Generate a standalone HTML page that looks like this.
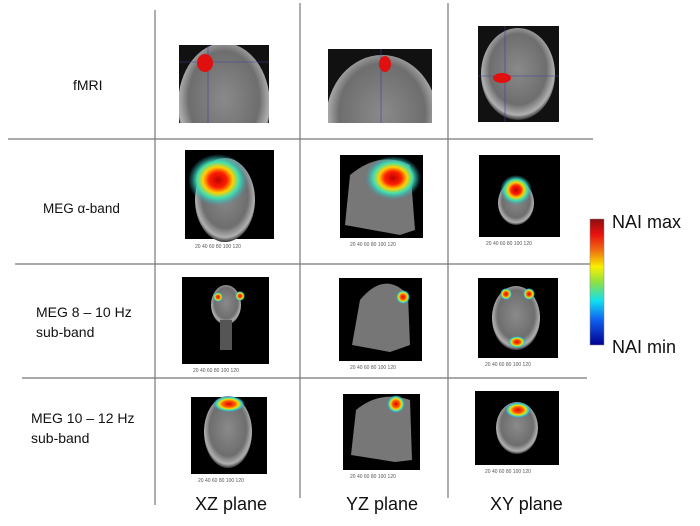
<!DOCTYPE html>
<html><head><meta charset="utf-8"><style>
body{margin:0;background:#fff;}
svg{display:block;font-family:"Liberation Sans",sans-serif;}
.t{font-size:5px;fill:#555}
</style></head><body>
<svg width="700" height="526" viewBox="0 0 700 526">
<defs>
<radialGradient id="brain" cx="50%" cy="45%" r="55%">
<stop offset="0" stop-color="#8a8a8a"/><stop offset="0.7" stop-color="#6e6e6e"/><stop offset="0.9" stop-color="#b0b0b0"/><stop offset="1" stop-color="#333"/></radialGradient>
<radialGradient id="hot" cx="50%" cy="50%" r="50%">
<stop offset="0" stop-color="#c00000"/><stop offset="0.3" stop-color="#ff2000"/><stop offset="0.5" stop-color="#ffd000"/><stop offset="0.7" stop-color="#40e0b0"/><stop offset="1" stop-color="#30a0c0" stop-opacity="0"/></radialGradient>
<radialGradient id="hot2" cx="50%" cy="50%" r="50%">
<stop offset="0" stop-color="#e00000"/><stop offset="0.4" stop-color="#ff6000"/><stop offset="0.6" stop-color="#f0e000"/><stop offset="0.8" stop-color="#30d0d0"/><stop offset="1" stop-color="#3090d0" stop-opacity="0"/></radialGradient>
<linearGradient id="cb" x1="0" y1="0" x2="0" y2="1">
<stop offset="0" stop-color="#8b1010"/><stop offset="0.12" stop-color="#e81010"/><stop offset="0.25" stop-color="#f07010"/><stop offset="0.38" stop-color="#f8f000"/><stop offset="0.5" stop-color="#90e040"/><stop offset="0.65" stop-color="#10e0f0"/><stop offset="0.8" stop-color="#1060f0"/><stop offset="1" stop-color="#000090"/></linearGradient>
<clipPath id="c1"><rect x="179" y="45" width="90" height="78"/></clipPath>
<clipPath id="c2"><rect x="328" y="49" width="104" height="74"/></clipPath>
<clipPath id="c3"><rect x="478" y="26" width="81" height="96"/></clipPath>
</defs>

<g stroke="#777" stroke-width="1.2">
<line x1="155" y1="10" x2="155" y2="505"/>
<line x1="300" y1="3" x2="300" y2="498"/>
<line x1="448" y1="3" x2="448" y2="498"/>
<line x1="8" y1="139" x2="593" y2="139"/>
<line x1="15" y1="264" x2="593" y2="264"/>
<line x1="22" y1="378" x2="587" y2="378"/>
</g>

<g font-size="14" fill="#111">
<text x="73" y="90">fMRI</text>
<text x="43" y="213" font-size="13.5">MEG α-band</text>
<text x="36" y="317">MEG 8 – 10 Hz</text>
<text x="36" y="337">sub-band</text>
<text x="31" y="423">MEG 10 – 12 Hz</text>
<text x="31" y="443">sub-band</text>
</g>
<g font-size="18" fill="#111">
<text x="195" y="510">XZ plane</text>
<text x="346" y="510">YZ plane</text>
<text x="490" y="510">XY plane</text>
<text x="612" y="228">NAI max</text>
<text x="612" y="353">NAI min</text>
</g>
<rect x="590" y="219" width="14" height="126" fill="url(#cb)" stroke="#888" stroke-width="0.5"/>

<!-- fMRI row -->
<rect x="179" y="45" width="90" height="78" fill="#111"/>
<g clip-path="url(#c1)">
<ellipse cx="224" cy="105" rx="46" ry="62" fill="url(#brain)"/>
<line x1="179" y1="62" x2="269" y2="62" stroke="#4040a0" stroke-width="0.6"/>
<line x1="208" y1="45" x2="208" y2="123" stroke="#4040a0" stroke-width="0.6"/>
</g>
<ellipse cx="205" cy="63" rx="8" ry="9" fill="#e01010"/>
<rect x="328" y="49" width="104" height="74" fill="#111"/>
<g clip-path="url(#c2)">
<ellipse cx="382" cy="120" rx="56" ry="65" fill="url(#brain)"/>
<line x1="381" y1="49" x2="381" y2="123" stroke="#4040a0" stroke-width="0.6"/>
</g>
<ellipse cx="385" cy="64" rx="6" ry="8" fill="#e01010"/>
<rect x="478" y="26" width="81" height="96" fill="#111"/>
<g clip-path="url(#c3)">
<ellipse cx="518" cy="74" rx="37" ry="46" fill="url(#brain)"/>
<line x1="478" y1="76" x2="559" y2="76" stroke="#4040a0" stroke-width="0.6"/>
<line x1="505" y1="26" x2="505" y2="122" stroke="#4040a0" stroke-width="0.6"/>
</g>
<ellipse cx="502" cy="78" rx="9" ry="5" fill="#e01010"/>

<!-- row 2 -->
<rect x="185" y="150" width="89" height="89" fill="#000"/>
<ellipse cx="225" cy="200" rx="30" ry="42" fill="url(#brain)"/>
<ellipse cx="218" cy="180" rx="30" ry="26" fill="url(#hot)"/>
<rect x="340" y="155" width="83" height="83" fill="#000"/>
<path d="M345 225 L350 175 Q380 150 410 165 L415 230 L400 235 Z" fill="#777"/>
<ellipse cx="393" cy="178" rx="28" ry="22" fill="url(#hot)"/>
<rect x="479" y="155" width="81" height="82" fill="#000"/>
<ellipse cx="516" cy="203" rx="18" ry="22" fill="url(#brain)"/>
<ellipse cx="516" cy="190" rx="16" ry="15" fill="url(#hot)"/>

<!-- row 3 -->
<rect x="182" y="277" width="87" height="87" fill="#000"/>
<ellipse cx="226" cy="305" rx="15" ry="20" fill="url(#brain)"/>
<rect x="220" y="320" width="12" height="30" fill="#555"/>
<circle cx="218" cy="297" r="5" fill="url(#hot2)"/>
<circle cx="240" cy="296" r="5" fill="url(#hot2)"/>
<rect x="339" y="278" width="83" height="83" fill="#000"/>
<path d="M352 345 L360 300 Q385 270 408 295 L410 345 L390 352 Z" fill="#767676"/>
<circle cx="403" cy="297" r="7" fill="url(#hot2)"/>
<rect x="478" y="278" width="80" height="80" fill="#000"/>
<ellipse cx="516" cy="318" rx="24" ry="32" fill="url(#brain)"/>
<circle cx="506" cy="294" r="6" fill="url(#hot2)"/>
<circle cx="529" cy="294" r="6" fill="url(#hot2)"/>
<ellipse cx="517" cy="342" rx="9" ry="6" fill="url(#hot2)"/>

<!-- row 4 -->
<rect x="191" y="397" width="76" height="77" fill="#000"/>
<ellipse cx="228" cy="432" rx="24" ry="36" fill="url(#brain)"/>
<ellipse cx="229" cy="404" rx="16" ry="8" fill="url(#hot2)"/>
<rect x="343" y="394" width="77" height="76" fill="#000"/>
<path d="M351 455 L356 410 Q380 390 410 400 L412 460 L395 462 Z" fill="#777"/>
<ellipse cx="396" cy="404" rx="9" ry="9" fill="url(#hot2)"/>
<rect x="475" y="391" width="84" height="74" fill="#000"/>
<ellipse cx="517" cy="428" rx="21" ry="26" fill="url(#brain)"/>
<ellipse cx="518" cy="410" rx="13" ry="8" fill="url(#hot2)"/>

<g class="t">
<text x="195" y="248">20 40 60 80 100 120</text>
<text x="350" y="246">20 40 60 80 100 120</text>
<text x="486" y="245">20 40 60 80 100 120</text>
<text x="193" y="372">20 40 60 80 100 120</text>
<text x="350" y="369">20 40 60 80 100 120</text>
<text x="485" y="366">20 40 60 80 100 120</text>
<text x="198" y="482">20 40 60 80 100 120</text>
<text x="350" y="478">20 40 60 80 100 120</text>
<text x="485" y="473">20 40 60 80 100 120</text>
</g>
</svg>
</body></html>
